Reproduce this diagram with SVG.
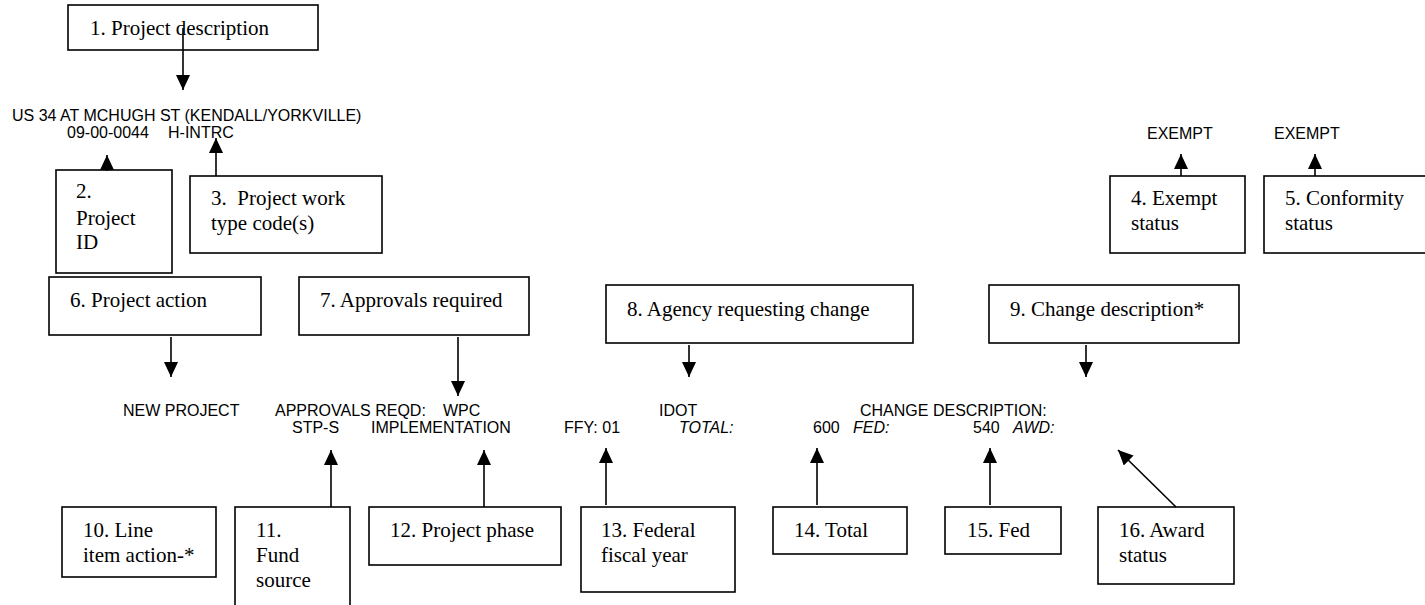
<svg xmlns="http://www.w3.org/2000/svg" width="1425" height="605" viewBox="0 0 1425 605">
<style>
.box{fill:#fff;stroke:#000;stroke-width:1.6}
.lbl{font-family:"Liberation Serif","Times New Roman",serif;font-size:21px;fill:#000}
.dat{font-family:"Liberation Sans",Arial,sans-serif;font-size:16px;fill:#000}
.it{font-style:italic}
.con line{stroke:#000;stroke-width:1.6;marker-end:url(#ah)}
</style>
<defs>
<marker id="ah" markerUnits="userSpaceOnUse" markerWidth="16" markerHeight="14" refX="15" refY="7" orient="auto" viewBox="0 0 16 14">
<path d="M0,0 L15,7 L0,14 z" fill="#000"/>
</marker>
</defs>
<rect width="1425" height="605" fill="#fff"/>

<g id="data">
<text class="dat" x="12" y="121">US 34 AT MCHUGH ST (KENDALL/YORKVILLE)</text>
<text class="dat" x="67" y="138">09-00-0044</text>
<text class="dat" x="168" y="138">H-INTRC</text>
<text class="dat" x="1147" y="139">EXEMPT</text>
<text class="dat" x="1274" y="139">EXEMPT</text>
<text class="dat" x="123" y="416">NEW PROJECT</text>
<text class="dat" x="275" y="416">APPROVALS REQD:</text>
<text class="dat" x="443" y="416">WPC</text>
<text class="dat" x="659" y="416">IDOT</text>
<text class="dat" x="860" y="416">CHANGE DESCRIPTION:</text>
<text class="dat" x="292" y="433">STP-S</text>
<text class="dat" x="371" y="433">IMPLEMENTATION</text>
<text class="dat" x="564" y="433">FFY: 01</text>
<text class="dat it" x="679" y="433">TOTAL:</text>
<text class="dat" x="813" y="433">600</text>
<text class="dat it" x="853" y="433">FED:</text>
<text class="dat" x="973" y="433">540</text>
<text class="dat it" x="1013" y="433">AWD:</text>
</g>

<g id="n1"><rect class="box" x="68" y="5" width="250" height="45"/><text class="lbl" x="90" y="35">1. Project description</text></g>
<g id="n2"><rect class="box" x="56" y="170" width="116" height="103"/><text class="lbl" x="76" y="198">2.</text><text class="lbl" x="76" y="225">Project</text><text class="lbl" x="76" y="249">ID</text></g>
<g id="n3"><rect class="box" x="190" y="176" width="192" height="77"/><text class="lbl" x="211" y="205" xml:space="preserve">3.  Project work</text><text class="lbl" x="211" y="230">type code(s)</text></g>
<g id="n4"><rect class="box" x="1110" y="176" width="135" height="77"/><text class="lbl" x="1131" y="205">4. Exempt</text><text class="lbl" x="1131" y="230">status</text></g>
<g id="n5"><rect class="box" x="1264" y="176" width="170" height="77"/><text class="lbl" x="1285" y="205">5. Conformity</text><text class="lbl" x="1285" y="230">status</text></g>
<g id="n6"><rect class="box" x="49" y="277" width="212" height="58"/><text class="lbl" x="70" y="307">6. Project action</text></g>
<g id="n7"><rect class="box" x="299" y="277" width="230" height="58"/><text class="lbl" x="320" y="307">7. Approvals required</text></g>
<g id="n8"><rect class="box" x="606" y="285" width="307" height="58"/><text class="lbl" x="627" y="316">8. Agency requesting change</text></g>
<g id="n9"><rect class="box" x="989" y="285" width="250" height="58"/><text class="lbl" x="1010" y="316">9. Change description*</text></g>
<g id="n10"><rect class="box" x="62" y="507" width="154" height="70"/><text class="lbl" x="83" y="537">10. Line</text><text class="lbl" x="83" y="562">item action-*</text></g>
<g id="n11"><rect class="box" x="235" y="507" width="115" height="110"/><text class="lbl" x="256" y="537">11.</text><text class="lbl" x="256" y="562">Fund</text><text class="lbl" x="256" y="587">source</text></g>
<g id="n12"><rect class="box" x="369" y="507" width="192" height="58"/><text class="lbl" x="390" y="537">12. Project phase</text></g>
<g id="n13"><rect class="box" x="581" y="507" width="154" height="85"/><text class="lbl" x="601" y="537">13. Federal</text><text class="lbl" x="601" y="562">fiscal year</text></g>
<g id="n14"><rect class="box" x="773" y="507" width="134" height="47"/><text class="lbl" x="794" y="537">14. Total</text></g>
<g id="n15"><rect class="box" x="945" y="507" width="116" height="47"/><text class="lbl" x="967" y="537">15. Fed</text></g>
<g id="n16"><rect class="box" x="1098" y="507" width="136" height="77"/><text class="lbl" x="1119" y="537">16. Award</text><text class="lbl" x="1119" y="562">status</text></g>

<g id="connectors" class="con">
<line x1="183" y1="28" x2="183" y2="90"/>
<line x1="107" y1="171" x2="107" y2="155"/>
<line x1="216" y1="176" x2="216" y2="138"/>
<line x1="1181" y1="176" x2="1181" y2="154"/>
<line x1="1315" y1="176" x2="1315" y2="154"/>
<line x1="171" y1="337" x2="171" y2="377"/>
<line x1="458" y1="337" x2="458" y2="396"/>
<line x1="689" y1="345" x2="689" y2="377"/>
<line x1="1086" y1="345" x2="1086" y2="377"/>
<line x1="331" y1="507" x2="331" y2="450"/>
<line x1="484" y1="507" x2="484" y2="450"/>
<line x1="606" y1="505" x2="606" y2="448"/>
<line x1="817" y1="505" x2="817" y2="448"/>
<line x1="990" y1="505" x2="990" y2="448"/>
<line x1="1176" y1="507" x2="1118" y2="450"/>
</g>
</svg>
